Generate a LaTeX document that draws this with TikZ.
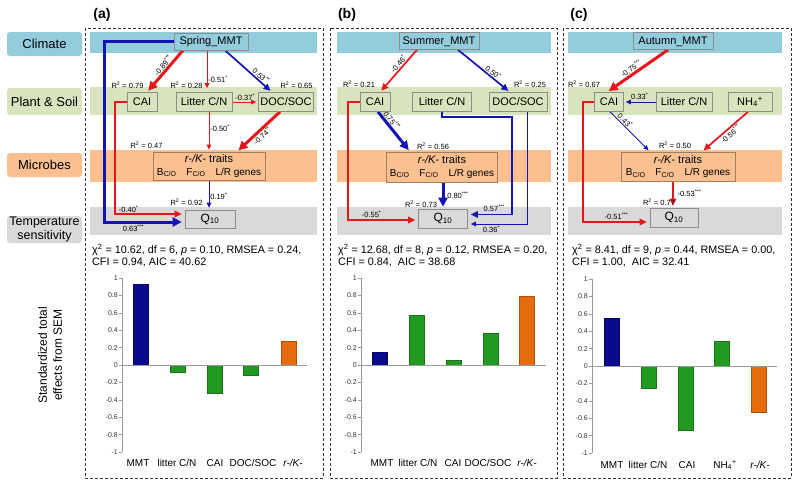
\documentclass[tikz,border=0pt]{standalone}
\usepackage{fontspec}
\setmainfont{Liberation Sans}
\usetikzlibrary{arrows.meta,calc,backgrounds}
\definecolor{cClim}{HTML}{93CDDD}
\definecolor{cPlant}{HTML}{D7E4BD}
\definecolor{cMic}{HTML}{FAC090}
\definecolor{cTemp}{HTML}{D9D9D9}
\definecolor{cRed}{HTML}{E8141C}
\definecolor{cBlue}{HTML}{1414B4}
\definecolor{cNavy}{HTML}{0A0A8C}
\definecolor{cGreen}{HTML}{229A22}
\definecolor{cOrange}{HTML}{E46C0A}
\definecolor{cRKb}{HTML}{A08060}
\definecolor{cBox}{HTML}{8C8C8C}
\newcommand\myfs[2]{\fontsize{#1}{#2}\selectfont}
\newcommand\mychart[4]{%
  \draw[axisline] (#1,#2-87) -- (#1,#2+87);
  \foreach \v [count=\i] in {1,0.8,0.6,0.4,0.2,0,-0.2,-0.4,-0.6,-0.8,-1} {
    \draw[axisline] (#1-3,{#2-87*(\v)}) -- (#1,{#2-87*(\v)});
    \node[tick] (#4t\i) at (#1-4,{#2-87*(\v)}) {\v};
  }
}
\newcommand\mybar[4]{\filldraw[fill=#4, draw=#4!75!black, line width=0.5pt] (#1-7.5,#2) rectangle (#1+7.5,{#2-87*(#3)});}
\tikzset{
  lab/.style={rounded corners=3pt, minimum width=75pt, inner sep=0pt, align=center, font=\myfs{13}{15}},
  var/.style={draw=cBox, line width=0.6pt, inner sep=0pt, minimum height=19pt, text height=8pt, text depth=2pt, font=\myfs{11}{13}},
  rk/.style={draw=cRKb, fill=cMic, line width=0.6pt, inner sep=0pt, minimum width=112pt, minimum height=28pt, align=center, font=\myfs{10}{12.5}},
  coef/.style={font=\myfs{7.5}{9}, inner sep=0.8pt, text=black},
  rtwo/.style={font=\myfs{7.5}{9}, inner sep=0pt},
  pl/.style={font=\bfseries\myfs{14}{16}, inner sep=0pt},
  stat/.style={font=\myfs{10.8}{12}, anchor=west, inner sep=0pt},
  tick/.style={font=\myfs{7}{8}, anchor=east, inner sep=0pt, text=black!80},
  cat/.style={font=\myfs{10}{12}, inner sep=0pt},
  axisline/.style={draw=black!40, line width=0.6pt},
  panelbox/.style={draw=black!80, line width=0.7pt, dash pattern=on 3pt off 2pt},
  aone/.style={line width=1pt, -{Triangle[length=5pt,width=4.5pt]}, shorten >=2pt},
  atwo/.style={line width=1.7pt, -{Triangle[length=7pt,width=6.5pt]}, shorten >=2pt},
  athree/.style={line width=3pt, -{Triangle[length=9pt,width=9pt]}, shorten >=2pt},
}
\begin{document}
\begin{tikzpicture}[x=1pt,y=-1pt]
\useasboundingbox (0,0) rectangle (800,493);
% left labels
\node[lab, fill=cClim, minimum height=24pt] (lClim) at (44.5,44) {Climate};
\node[lab, fill=cPlant, minimum height=27pt] (lPlant) at (44.5,101.5) {Plant \& Soil};
\node[lab, fill=cMic, minimum height=24pt] (lMic) at (44.5,165) {Microbes};
\node[lab, fill=cTemp, minimum height=27pt, font=\myfs{12.5}{14.5}] (lTemp) at (44.5,229.5) {Temperature\\sensitivity};
\node[font=\myfs{12}{15}, rotate=90, align=center, inner sep=0pt] (ylab) at (50,355) {Standardized total\\effects from SEM};
% bands
\begin{scope}[on background layer]
\foreach \xa/\xb in {90/317, 337/551, 568/782} {
  \fill[cClim] (\xa,32) rectangle (\xb,53);
  \fill[cPlant] (\xa,87) rectangle (\xb,115);
  \fill[cMic] (\xa,150) rectangle (\xb,182);
  \fill[cTemp] (\xa,207) rectangle (\xb,235);
}
\end{scope}
\draw[panelbox] (85,28) rectangle (323,478);
\draw[panelbox] (330,28) rectangle (557,478);
\draw[panelbox] (563,28) rectangle (791,478);
\node[pl] (pa) at (102,15) {(a)};
\node[pl] (pb) at (347,15) {(b)};
\node[pl] (pc) at (579,15) {(c)};

% ---------------- panel a ----------------
\node[var, fill=cClim, minimum width=74pt, minimum height=17pt] (aMMT) at (211,41.5) {Spring\_MMT};
\node[var, fill=cPlant, minimum width=30pt] (aCAI) at (142,102) {CAI};
\node[var, fill=cPlant, minimum width=56pt] (aLit) at (204,102) {Litter C/N};
\node[var, fill=cPlant, minimum width=55pt] (aDOC) at (286,102) {DOC/SOC};
\node[rk] (aRK) at (209,166) {\myfs{11}{13}\textit{r-/K-} traits\\B\textsubscript{C/O}\quad F\textsubscript{C/O}\quad L/R genes};
\node[var, fill=cTemp, minimum width=50pt, minimum height=18pt, font=\myfs{12}{14}] (aQ) at (210,219) {Q\textsubscript{10}};
\node[rtwo] (aR1) at (127.5,85) {R\textsuperscript{2} = 0.79};
\node[rtwo] (aR2) at (186.5,85) {R\textsuperscript{2} = 0.28};
\node[rtwo] (aR3) at (296.5,85) {R\textsuperscript{2} = 0.65};
\node[rtwo] (aR4) at (146.5,145) {R\textsuperscript{2} = 0.47};
\node[rtwo] (aR5) at (186.5,202) {R\textsuperscript{2} = 0.92};
\begin{scope}[on background layer]
\draw[cRed, athree] ([xshift=-28pt]aMMT.south) -- ([xshift=5pt]aCAI.north) node[coef, sloped, above, pos=0.44] {-0.89\textsuperscript{***}};
\draw[cRed, aone, shorten >=4pt] ([xshift=-4pt]aMMT.south) -- ([xshift=-4pt]aMMT.south |- aLit.north) node[coef, right, pos=0.7] {-0.51\textsuperscript{*}};
\draw[cBlue, atwo] ([xshift=14pt]aMMT.south) -- ([xshift=-14pt]aDOC.north) node[coef, sloped, above, pos=0.7] {0.53\textsuperscript{**}};
\draw[cRed, aone] (aLit.east) -- (aDOC.west) node[coef, above, midway] {-0.37\textsuperscript{*}};
\draw[cRed, aone] ([xshift=5pt]aLit.south) -- ([xshift=5pt]aLit.south |- aRK.north) node[coef, right, pos=0.4] {-0.50\textsuperscript{*}};
\draw[cRed, athree] ([xshift=-6pt]aDOC.south) -- ([xshift=28pt]aRK.north) node[coef, sloped, below, pos=0.5] {-0.74\textsuperscript{**}};
\draw[cBlue, aone] (aRK.south) -- (aRK.south |- aQ.north) node[coef, right, pos=0.55] {0.19\textsuperscript{*}};
\draw[cRed, atwo, shorten >=3pt] (aCAI.west) -- ++(-12,0) |- ([yshift=5pt]aQ.west) node[coef, above, pos=0.6] {-0.40\textsuperscript{*}};
\draw[cBlue, athree, shorten >=3pt] (aMMT.west) -- ++(-69,0) |- ([yshift=-3pt]aQ.west) node[coef, below=1pt, pos=0.68] {0.63\textsuperscript{***}};
\end{scope}
\node[stat] (aS1) at (92,250) {χ\textsuperscript{2} = 10.62, df = 6, \textit{p} = 0.10, RMSEA = 0.24,};
\node[stat] (aS2) at (92,262) {CFI = 0.94, AIC = 40.62};
\mychart{122}{365}{307}{a}
\mybar{140.5}{365}{0.93}{cNavy}
\mybar{177.5}{365}{-0.08}{cGreen}
\mybar{214.5}{365}{-0.33}{cGreen}
\mybar{250.5}{365}{-0.12}{cGreen}
\mybar{289}{365}{0.27}{cOrange}
\draw[axisline] (122,365) -- (307,365);
\node[cat] (aC1) at (138,463) {MMT};
\node[cat] (aC2) at (177,463) {litter C/N};
\node[cat] (aC3) at (215,463) {CAI};
\node[cat] (aC4) at (253,463) {DOC/SOC};
\node[cat] (aC5) at (293,463) {\textit{r-/K-}};

% ---------------- panel b ----------------
\node[var, fill=cClim, minimum width=80pt, minimum height=17pt] (bMMT) at (439,41) {Summer\_MMT};
\node[var, fill=cPlant, minimum width=30pt] (bCAI) at (375,102) {CAI};
\node[var, fill=cPlant, minimum width=59pt] (bLit) at (442,102) {Litter C/N};
\node[var, fill=cPlant, minimum width=58pt] (bDOC) at (518,102) {DOC/SOC};
\node[rk, minimum width=111pt, minimum height=30pt] (bRK) at (442,167) {\myfs{11}{13}\textit{r-/K-} traits\\B\textsubscript{C/O}\quad F\textsubscript{C/O}\quad L/R genes};
\node[var, fill=cTemp, minimum width=49pt, minimum height=19pt, font=\myfs{12}{14}] (bQ) at (443,218.5) {Q\textsubscript{10}};
\node[rtwo] (bR1) at (359,84) {R\textsuperscript{2} = 0.21};
\node[rtwo] (bR2) at (530,84) {R\textsuperscript{2} = 0.25};
\node[rtwo] (bR3) at (433,146) {R\textsuperscript{2} = 0.56};
\node[rtwo] (bR4) at (421,204) {R\textsuperscript{2} = 0.73};
\begin{scope}[on background layer]
\draw[cRed, atwo] ([xshift=-22pt]bMMT.south) -- ([xshift=5pt]bCAI.north) node[coef, sloped, above, pos=0.4] {-0.46\textsuperscript{*}};
\draw[cBlue, atwo] ([xshift=19pt]bMMT.south) -- ([xshift=-8pt]bDOC.north) node[coef, sloped, above, pos=0.62] {0.50\textsuperscript{*}};
\draw[cBlue, athree] ([xshift=3pt]bCAI.south) -- ([xshift=-32pt]bRK.north) node[coef, sloped, above, pos=0.3] {0.75\textsuperscript{***}};
\draw[cBlue, athree] ([xshift=1pt]bRK.south) -- ([xshift=1pt]bRK.south |- bQ.north) node[coef, right=2pt, pos=0.5] {0.80\textsuperscript{***}};
\draw[cRed, atwo, shorten >=3pt] (bCAI.west) -- ++(-12,0) |- ([yshift=-1.5pt]bQ.west) node[coef, above=1pt, pos=0.67] {-0.55\textsuperscript{*}};
\draw[cBlue, atwo, shorten >=3pt] (bLit.south) -- ++(0,5) -- ++(70,0) |- ([yshift=4pt]bQ.east) node[coef, above=1pt, pos=0.7] {0.57\textsuperscript{***}};
\draw[cBlue, aone, shorten >=3pt] ([xshift=9pt]bDOC.south) |- ([yshift=-5.5pt]bQ.east) node[coef, below=1pt, pos=0.8] {0.36\textsuperscript{*}};
\end{scope}
\node[stat] (bS1) at (338,250) {χ\textsuperscript{2} = 12.68, df = 8, \textit{p} = 0.12, RMSEA = 0.20,};
\node[stat] (bS2) at (338,262) {CFI = 0.84,\ \ AIC = 38.68};
\mychart{361}{365}{546}{b}
\mybar{379.5}{365}{0.15}{cNavy}
\mybar{416.5}{365}{0.57}{cGreen}
\mybar{453.5}{365}{0.05}{cGreen}
\mybar{490.5}{365}{0.36}{cGreen}
\mybar{527}{365}{0.79}{cOrange}
\draw[axisline] (361,365) -- (546,365);
\node[cat] (bC1) at (382,463) {MMT};
\node[cat] (bC2) at (418,463) {litter C/N};
\node[cat] (bC3) at (453,463) {CAI};
\node[cat] (bC4) at (488,463) {DOC/SOC};
\node[cat] (bC5) at (527,463) {\textit{r-/K-}};

% ---------------- panel c ----------------
\node[var, fill=cClim, minimum width=80pt, minimum height=17pt] (cMMT) at (673,41) {Autumn\_MMT};
\node[var, fill=cPlant, minimum width=29pt] (cCAI) at (609,102) {CAI};
\node[var, fill=cPlant, minimum width=56pt] (cLit) at (684,102) {Litter C/N};
\node[var, fill=cPlant, minimum width=44pt] (cNH) at (750,102) {NH\textsubscript{4}\textsuperscript{+}};
\node[rk, minimum width=114pt, minimum height=29pt] (cRK) at (678,166.5) {\myfs{11}{13}\textit{r-/K-} traits\\B\textsubscript{C/O}\quad F\textsubscript{C/O}\quad L/R genes};
\node[var, fill=cTemp, minimum width=48pt, minimum height=19pt, font=\myfs{12}{14}] (cQ) at (674,217.5) {Q\textsubscript{10}};
\node[rtwo] (cR1) at (584,84) {R\textsuperscript{2} = 0.67};
\node[rtwo] (cR2) at (675,145) {R\textsuperscript{2} = 0.50};
\node[rtwo] (cR3) at (659,202) {R\textsuperscript{2} = 0.77};
\begin{scope}[on background layer]
\draw[cRed, athree] ([xshift=-5pt]cMMT.south) -- ([xshift=-2pt]cCAI.north) node[coef, sloped, above, pos=0.55] {-0.75\textsuperscript{***}};
\draw[cBlue, aone] (cLit.west) -- (cCAI.east) node[coef, above=1pt, midway] {0.33\textsuperscript{*}};
\draw[cBlue, aone] ([xshift=1pt]cCAI.south) -- ([xshift=-28pt]cRK.north) node[coef, sloped, above, pos=0.3] {0.43\textsuperscript{*}};
\draw[cRed, atwo] ([xshift=-2pt]cNH.south) -- ([xshift=24pt]cRK.north) node[coef, sloped, below, pos=0.45] {-0.56\textsuperscript{***}};
\draw[cRed, atwo] ([xshift=-5pt]cRK.south) -- ([xshift=-5pt]cRK.south |- cQ.north) node[coef, right=3pt, pos=0.45] {-0.53\textsuperscript{***}};
\draw[cRed, atwo, shorten >=3pt] (cCAI.west) -- ++(-11,0) |- ([yshift=-4.5pt]cQ.west) node[coef, above=1pt, pos=0.75] {-0.51\textsuperscript{***}};
\end{scope}
\node[stat] (cS1) at (572,250) {χ\textsuperscript{2} = 8.41, df = 9, \textit{p} = 0.44, RMSEA = 0.00,};
\node[stat] (cS2) at (572,262) {CFI = 1.00,\ \ AIC = 32.41};
\mychart{592}{366}{777}{c}
\mybar{611.5}{366}{0.55}{cNavy}
\mybar{648.5}{366}{-0.25}{cGreen}
\mybar{685.5}{366}{-0.74}{cGreen}
\mybar{721.5}{366}{0.29}{cGreen}
\mybar{758.5}{366}{-0.53}{cOrange}
\draw[axisline] (592,366) -- (777,366);
\node[cat] (cC1) at (612,465) {MMT};
\node[cat] (cC2) at (648,465) {litter C/N};
\node[cat] (cC3) at (687,465) {CAI};
\node[cat] (cC4) at (725,465) {NH\textsubscript{4}\textsuperscript{+}};
\node[cat] (cC5) at (760,465) {\textit{r-/K-}};
\end{tikzpicture}
\end{document}
